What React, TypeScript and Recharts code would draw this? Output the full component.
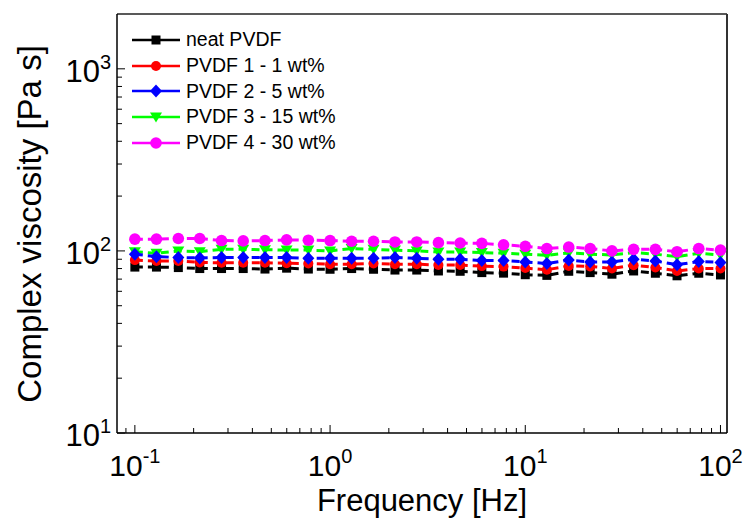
import React from "react";
import { LineChart, Line, XAxis, YAxis, ReferenceLine } from "recharts";

// frequency [Hz]
const freq = [
  0.1, 0.129, 0.167, 0.215, 0.278, 0.359, 0.464, 0.599, 0.774, 1, 1.29, 1.67, 2.15, 2.78,
  3.59, 4.64, 5.99, 7.74, 10, 12.9, 16.7, 21.5, 27.8, 35.9, 46.4, 59.9, 77.4, 100,
];

// complex viscosity [Pa s]
const neatPVDF = [
  81.5, 81.5, 81, 80, 80, 80, 79.5, 80.4, 79.5, 79.3, 80, 79.3, 78.5, 78.5, 77.6, 77.3, 76,
  75.5, 74, 73.4, 77.3, 76, 74.5, 77.6, 75.4, 73, 75.4, 73.8,
];
const pvdf1 = [
  89, 88, 88, 86.5, 86, 86, 86, 85.5, 85.3, 84.5, 84.5, 85.3, 84.5, 84.5, 83.7, 83.7, 82.5,
  82, 80.5, 78.8, 82.7, 82.2, 80, 83.5, 81, 77.6, 80, 80,
];
const pvdf2 = [
  96, 93, 92, 91.5, 92, 92, 92, 92, 91, 91, 91, 91, 92, 91, 90, 90, 88.5, 88.5, 87, 85.3, 89,
  87, 87, 90, 88, 84, 87.5, 86.5,
];
const pvdf3 = [
  99, 97, 100, 99, 102, 102, 101.5, 101, 101, 100, 103, 102, 101, 100, 98.5, 98.5, 98, 97,
  96, 94.5, 97.5, 96, 95, 98, 96, 93, 97, 95,
];
const pvdf4 = [
  116, 116, 117, 117, 114, 113.5, 114, 115, 114.5, 114, 113, 113, 112, 112, 111, 110.5, 110,
  108, 106, 103, 105, 103, 100, 102, 102, 99, 103, 101,
];

const xTicks = [
  0.09, 0.1, 0.2, 0.3, 0.4, 0.5, 0.6, 0.7, 0.8, 0.9, 1, 2, 3, 4, 5, 6, 7, 8, 9, 10, 20, 30,
  40, 50, 60, 70, 80, 90, 100,
];
const yTicks = [
  10, 20, 30, 40, 50, 60, 70, 80, 90, 100, 200, 300, 400, 500, 600, 700, 800, 900, 1000,
];
const xDomain = [0.081, 108];
const yDomain = [10, 2000];

const series = [
  { key: "neat", name: "neat PVDF", color: "#000000", shape: "square" },
  { key: "p1", name: "PVDF 1 - 1 wt%", color: "#ff0000", shape: "circle" },
  { key: "p3", name: "PVDF 3 - 15 wt%", color: "#00ff00", shape: "triangle" },
  { key: "p2", name: "PVDF 2 - 5 wt%", color: "#0000ff", shape: "diamond" },
  { key: "p4", name: "PVDF 4 - 30 wt%", color: "#ff00ff", shape: "bigcircle" },
];
const legendOrder = ["neat", "p1", "p2", "p3", "p4"];

const data = freq.map((f, i) => ({
  f,
  neat: neatPVDF[i],
  p1: pvdf1[i],
  p2: pvdf2[i],
  p3: pvdf3[i],
  p4: pvdf4[i],
}));

const FONT = "Arial, 'Liberation Sans', sans-serif";

function Marker({ cx, cy, shape, color }: any) {
  if (cx == null || cy == null) return null;
  switch (shape) {
    case "square":
      return <rect x={cx - 4.5} y={cy - 4.5} width={9} height={9} fill={color} />;
    case "circle":
      return <circle cx={cx} cy={cy} r={5} fill={color} />;
    case "bigcircle":
      return <circle cx={cx} cy={cy} r={5.8} fill={color} />;
    case "diamond":
      return (
        <polygon
          points={`${cx},${cy - 6.5} ${cx + 6},${cy} ${cx},${cy + 6.5} ${cx - 6},${cy}`}
          fill={color}
        />
      );
    case "triangle":
      return (
        <polygon
          points={`${cx - 6},${cy - 4.5} ${cx + 6},${cy - 4.5} ${cx},${cy + 5.5}`}
          fill={color}
        />
      );
  }
  return null;
}

const isMajor = (v: number) => Math.abs(Math.log10(v) - Math.round(Math.log10(v))) < 1e-6;

function XTick({ x, y, payload }: any) {
  const v = payload.value;
  const major = isMajor(v);
  const exp = Math.round(Math.log10(v));
  return (
    <g>
      <line x1={x} y1={y} x2={x} y2={y - (major ? 8 : 5)} stroke="#000" strokeWidth={1} />
      {major && (
        <text x={x} y={476} textAnchor="middle" fontSize={30} fontFamily={FONT} fill="#000">
          <tspan>10</tspan>
          <tspan dy={-13} fontSize={20}>
            {exp}
          </tspan>
        </text>
      )}
    </g>
  );
}

function YTick({ x, y, payload }: any) {
  const v = payload.value;
  const major = isMajor(v);
  const exp = Math.round(Math.log10(v));
  return (
    <g>
      <line x1={x} y1={y} x2={x + (major ? 8 : 5)} y2={y} stroke="#000" strokeWidth={1} />
      {major && (
        <text x={x - 6} y={y + 13} textAnchor="end" fontSize={31} fontFamily={FONT} fill="#000">
          <tspan>10</tspan>
          <tspan dy={-13} fontSize={20}>
            {exp}
          </tspan>
        </text>
      )}
    </g>
  );
}

function LegendBox() {
  return (
    <div
      style={{
        position: "absolute",
        left: 131,
        top: 27,
        fontFamily: FONT,
        fontSize: 19.5,
        lineHeight: "25.8px",
      }}
    >
      {legendOrder.map((k) => {
        const s = series.find((d) => d.key === k)!;
        return (
          <div key={k} style={{ display: "flex", alignItems: "center", height: 25.8 }}>
            <svg width={50} height={20} style={{ marginRight: 5 }}>
              <line x1={1} y1={10} x2={49} y2={10} stroke={s.color} strokeWidth={2.5} />
              <Marker cx={25} cy={10} shape={s.shape} color={s.color} />
            </svg>
            <span style={{ color: "#000", whiteSpace: "nowrap" }}>{s.name}</span>
          </div>
        );
      })}
    </div>
  );
}

export default function App() {
  return (
    <div style={{ position: "absolute", left: 0, top: 0, width: 746, height: 519, background: "#fff" }}>
      <LineChart
        width={746}
        height={519}
        data={data}
        margin={{ top: 14, right: 19, bottom: 0, left: 0 }}
      >
        <XAxis
          dataKey="f"
          type="number"
          scale="log"
          domain={xDomain}
          ticks={xTicks}
          allowDataOverflow
          height={86}
          tickSize={0}
          tickMargin={0}
          tick={<XTick />}
          interval={0}
          axisLine={{ stroke: "#000", strokeWidth: 1.5 }}
        />
        <YAxis
          type="number"
          scale="log"
          domain={yDomain}
          ticks={yTicks}
          allowDataOverflow
          width={117}
          tickSize={0}
          tickMargin={0}
          tick={<YTick />}
          interval={0}
          axisLine={{ stroke: "#000", strokeWidth: 1.5 }}
        />
        <ReferenceLine y={yDomain[1]} stroke="#222" strokeWidth={1.5} />
        <ReferenceLine x={xDomain[1]} stroke="#333" strokeWidth={2} />
        {series.map((s) => (
          <Line
            key={s.key}
            dataKey={s.key}
            name={s.name}
            stroke={s.color}
            strokeWidth={3}
            strokeDasharray="8 5"
            isAnimationActive={false}
            dot={(p: any) => (
              <Marker key={`${s.key}-${p.index}`} cx={p.cx} cy={p.cy} shape={s.shape} color={s.color} />
            )}
            activeDot={false}
          />
        ))}
      </LineChart>
      <LegendBox />
      <svg
        width={746}
        height={519}
        style={{ position: "absolute", left: 0, top: 0, pointerEvents: "none" }}
      >
        <text x={422} y={511} textAnchor="middle" fontSize={31} fontFamily={FONT} fill="#000">
          Frequency [Hz]
        </text>
        <text
          transform="translate(41,224) rotate(-90)"
          textAnchor="middle"
          fontSize={33}
          fontFamily={FONT}
          fill="#000"
        >
          Complex viscosity [Pa s]
        </text>
      </svg>
    </div>
  );
}
